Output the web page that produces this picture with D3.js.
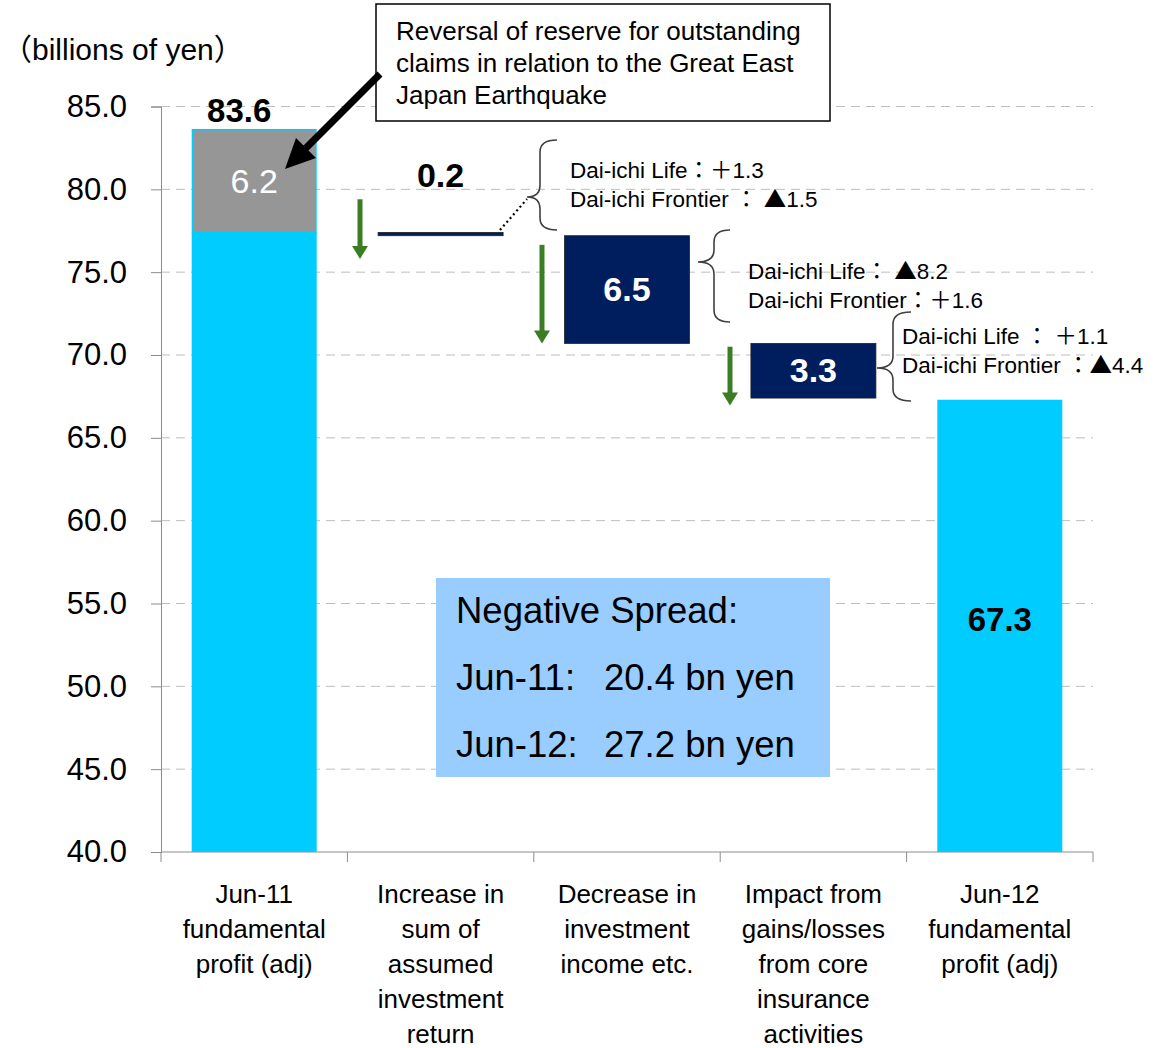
<!DOCTYPE html>
<html>
<head>
<meta charset="utf-8">
<script src="https://cdn.jsdelivr.net/npm/d3@7"></script>
<style>
  body { margin: 0; background: #fff; }
  svg { display: block; }
  text { font-family: "Liberation Sans", Arial, "Noto Sans CJK JP", sans-serif; }
  .cjk { font-family: "Noto Sans CJK JP", sans-serif; }
</style>
</head>
<body>
<svg id="chart" width="1160" height="1048"></svg>
<script>
// ---- data ----
const categories = [
  "Jun-11|fundamental|profit (adj)",
  "Increase in|sum of|assumed|investment|return",
  "Decrease in|investment|income etc.",
  "Impact from|gains/losses|from core|insurance|activities",
  "Jun-12|fundamental|profit (adj)"
];
const startTotal = 83.6;
const reversalPart = 6.2;
const deltas = [-0.2, -6.5, -3.3];
const deltaLabels = ["0.2", "6.5", "3.3"];
const endTotal = 67.3;
const yTicks = [40, 45, 50, 55, 60, 65, 70, 75, 80, 85];
const breakdowns = [
  ["Dai-ichi Life：＋1.3", "Dai-ichi Frontier ： ▲1.5"],
  ["Dai-ichi Life： ▲8.2", "Dai-ichi Frontier：＋1.6"],
  ["Dai-ichi Life ： ＋1.1", "Dai-ichi Frontier ：▲4.4"]
];
const calloutLines = [
  "Reversal of reserve for outstanding",
  "claims in relation to the Great East",
  "Japan Earthquake"
];
const spreadTitle = "Negative Spread:";
const spreadRows = [["Jun-11:", "20.4 bn yen"], ["Jun-12:", "27.2 bn yen"]];
// green arrow spans (data units)
const arrowSpans = [[79.4, 75.8], [76.65, 70.7], [70.5, 66.95]];

// ---- layout ----
const svg = d3.select("#chart");
const x0 = 161, x1 = 1093, yTop = 106.5, yBot = 852;
const x = d3.scaleBand().domain(categories).range([x0, x1]).paddingInner(0.3294).paddingOuter(0.1647);
const y = d3.scaleLinear().domain([40, 85]).range([yBot, yTop]);
const bw = x.bandwidth();
const cx = c => x(c) + bw / 2;

const CYAN = "#00CCFF", NAVY = "#001D5E", GRAY = "#969696", GREEN = "#3B7D23";

// gridlines
svg.append("g").selectAll("line").data(yTicks.filter(t => t > 40)).join("line")
  .attr("x1", x0).attr("x2", x1)
  .attr("y1", d => y(d)).attr("y2", d => y(d))
  .attr("stroke", "#bdbdbd").attr("stroke-width", 1).attr("stroke-dasharray", "9,6");

// y axis
const yAxis = d3.axisLeft(y).tickValues(yTicks).tickFormat(d3.format(".1f")).tickSize(10).tickPadding(24);
const gy = svg.append("g").attr("transform", `translate(${x0},0)`).call(yAxis);
gy.select(".domain").attr("stroke", "#8c8c8c");
gy.selectAll(".tick line").attr("stroke", "#8c8c8c");
gy.selectAll(".tick text").attr("font-size", 31).attr("fill", "#000")
  .style("font-family", '"Liberation Sans", Arial, sans-serif');

// x axis
const gx = svg.append("g").attr("transform", `translate(0,${yBot})`);
gx.append("line").attr("x1", x0).attr("x2", x1).attr("stroke", "#8c8c8c");
const bounds = categories.map(c => x(c) - x.step() * x.paddingInner() / 2).concat([x1]);
bounds[0] = x0;
gx.selectAll("line.tk").data(bounds).join("line").attr("class", "tk")
  .attr("x1", d => d).attr("x2", d => d).attr("y1", 0).attr("y2", 10).attr("stroke", "#8c8c8c");
categories.forEach(c => {
  const t = gx.append("text").attr("text-anchor", "middle").attr("font-size", 26).attr("fill", "#000");
  c.split("|").forEach((ln, i) => {
    t.append("tspan").attr("x", cx(c)).attr("y", 51 + i * 35).text(ln);
  });
});

// helper: text with full-width symbols rendered in CJK font
function mixedText(sel, str) {
  const parts = str.match(/[：＋▲（）]+|[^：＋▲（）]+/g);
  parts.forEach(p => {
    const ts = sel.append("tspan").text(p);
    if (/[：＋▲（）]/.test(p)) ts.attr("class", "cjk");
  });
  return sel;
}

// unit label
mixedText(svg.append("text").attr("x", 2).attr("y", 60).attr("font-size", 30).attr("fill", "#000"),
  "（billions of yen）");

// start bar: cyan base + gray reversal part
const base0 = startTotal - reversalPart;
svg.append("rect").attr("x", x(categories[0])).attr("width", bw)
  .attr("y", y(base0)).attr("height", y(40) - y(base0)).attr("fill", CYAN);
svg.append("rect").attr("x", x(categories[0]) + 0.75).attr("width", bw - 1.5)
  .attr("y", y(startTotal)).attr("height", y(base0) - y(startTotal))
  .attr("fill", GRAY).attr("stroke", CYAN).attr("stroke-width", 1.5);
svg.append("text").attr("x", cx(categories[0])).attr("y", (y(startTotal) + y(base0)) / 2 + 12)
  .attr("text-anchor", "middle").attr("font-size", 34).attr("fill", "#fff").text(reversalPart.toFixed(1));
svg.append("text").attr("x", cx(categories[0]) - 15).attr("y", y(startTotal) - 8)
  .attr("text-anchor", "middle").attr("font-size", 33).attr("font-weight", "bold").attr("fill", "#000")
  .text(startTotal.toFixed(1));

// delta bars
let run = base0;
const deltaBars = deltas.map((d, i) => {
  const from = run, to = run + d;
  run = to;
  return { cat: categories[i + 1], from, to, label: deltaLabels[i] };
});
svg.append("g").selectAll("rect").data(deltaBars).join("rect")
  .attr("x", d => x(d.cat)).attr("width", bw)
  .attr("y", d => y(d.from)).attr("height", d => y(d.to) - y(d.from))
  .attr("fill", NAVY).attr("stroke", "#222").attr("stroke-width", 0.8);
deltaBars.forEach((d, i) => {
  if (i === 0) {
    svg.append("text").attr("x", cx(d.cat)).attr("y", y(d.from) - 45)
      .attr("text-anchor", "middle").attr("font-size", 34).attr("font-weight", "bold").attr("fill", "#000").text(d.label);
  } else {
    svg.append("text").attr("x", cx(d.cat)).attr("y", (y(d.from) + y(d.to)) / 2 + 11)
      .attr("text-anchor", "middle").attr("font-size", 34).attr("font-weight", "bold").attr("fill", "#fff").text(d.label);
  }
});

// end bar
const lastCat = categories[4];
svg.append("rect").attr("x", x(lastCat)).attr("width", bw)
  .attr("y", y(endTotal)).attr("height", y(40) - y(endTotal)).attr("fill", CYAN);
svg.append("text").attr("x", cx(lastCat)).attr("y", 631).attr("text-anchor", "middle")
  .attr("font-size", 33).attr("font-weight", "bold").attr("fill", "#000").text(endTotal.toFixed(1));

// green arrows
const arrowX = [360, 542, 730];
arrowSpans.forEach((s, i) => {
  const ax = arrowX[i], ya = y(s[0]), yb = y(s[1]);
  svg.append("line").attr("x1", ax).attr("x2", ax).attr("y1", ya).attr("y2", yb - 12)
    .attr("stroke", GREEN).attr("stroke-width", 5);
  svg.append("path").attr("d", `M${ax - 8},${yb - 13} L${ax + 8},${yb - 13} L${ax},${yb} Z`).attr("fill", GREEN);
});

// braces
function brace(xEnd, yT, xV, xTip, yTip, yB) {
  const r = 12;
  return `M${xEnd},${yT} Q${xV},${yT} ${xV},${yT + r} L${xV},${yTip - r} Q${xV},${yTip} ${xTip},${yTip}` +
         ` Q${xV},${yTip} ${xV},${yTip + r} L${xV},${yB - r} Q${xV},${yB} ${xEnd},${yB}`;
}
const braceGeo = [
  [557, 140, 540, 527, 197, 230],
  [730, 230, 714, 698, 262, 322],
  [911, 312, 893, 877, 368, 401]
];
braceGeo.forEach(b => {
  svg.append("path").attr("d", brace(...b)).attr("fill", "none").attr("stroke", "#404040").attr("stroke-width", 1.6);
});
// dotted connector
svg.append("line").attr("x1", 500).attr("y1", 230).attr("x2", 527).attr("y2", 199)
  .attr("stroke", "#000").attr("stroke-width", 2.2).attr("stroke-dasharray", "2,3");

// breakdown texts
const bdPos = [[570, 178], [748, 279], [902, 344]];
breakdowns.forEach((lines, i) => {
  lines.forEach((ln, j) => {
    mixedText(svg.append("text").attr("x", bdPos[i][0]).attr("y", bdPos[i][1] + j * 29)
      .attr("font-size", 22.5).attr("fill", "#000"), ln);
  });
});

// callout box
svg.append("rect").attr("x", 376).attr("y", 4).attr("width", 454).attr("height", 117)
  .attr("fill", "#fff").attr("stroke", "#000").attr("stroke-width", 1.5);
calloutLines.forEach((ln, i) => {
  svg.append("text").attr("x", 396).attr("y", 40 + i * 32).attr("font-size", 26).attr("fill", "#000").text(ln);
});
// big black arrow
svg.append("line").attr("x1", 380).attr("y1", 74).attr("x2", 303).attr("y2", 151)
  .attr("stroke", "#000").attr("stroke-width", 7);
svg.append("path").attr("d", "M285,169 L316,158 L296,138 Z").attr("fill", "#000");

// negative spread box
svg.append("rect").attr("x", 436).attr("y", 578).attr("width", 394).attr("height", 199).attr("fill", "#99CCFF");
svg.append("text").attr("x", 456).attr("y", 623).attr("font-size", 36.5).attr("fill", "#000").text(spreadTitle);
spreadRows.forEach((r, i) => {
  svg.append("text").attr("x", 456).attr("y", 690 + i * 67).attr("font-size", 36.5).attr("fill", "#000").text(r[0]);
  svg.append("text").attr("x", 604).attr("y", 690 + i * 67).attr("font-size", 36.5).attr("fill", "#000").text(r[1]);
});
</script>
</body>
</html>
